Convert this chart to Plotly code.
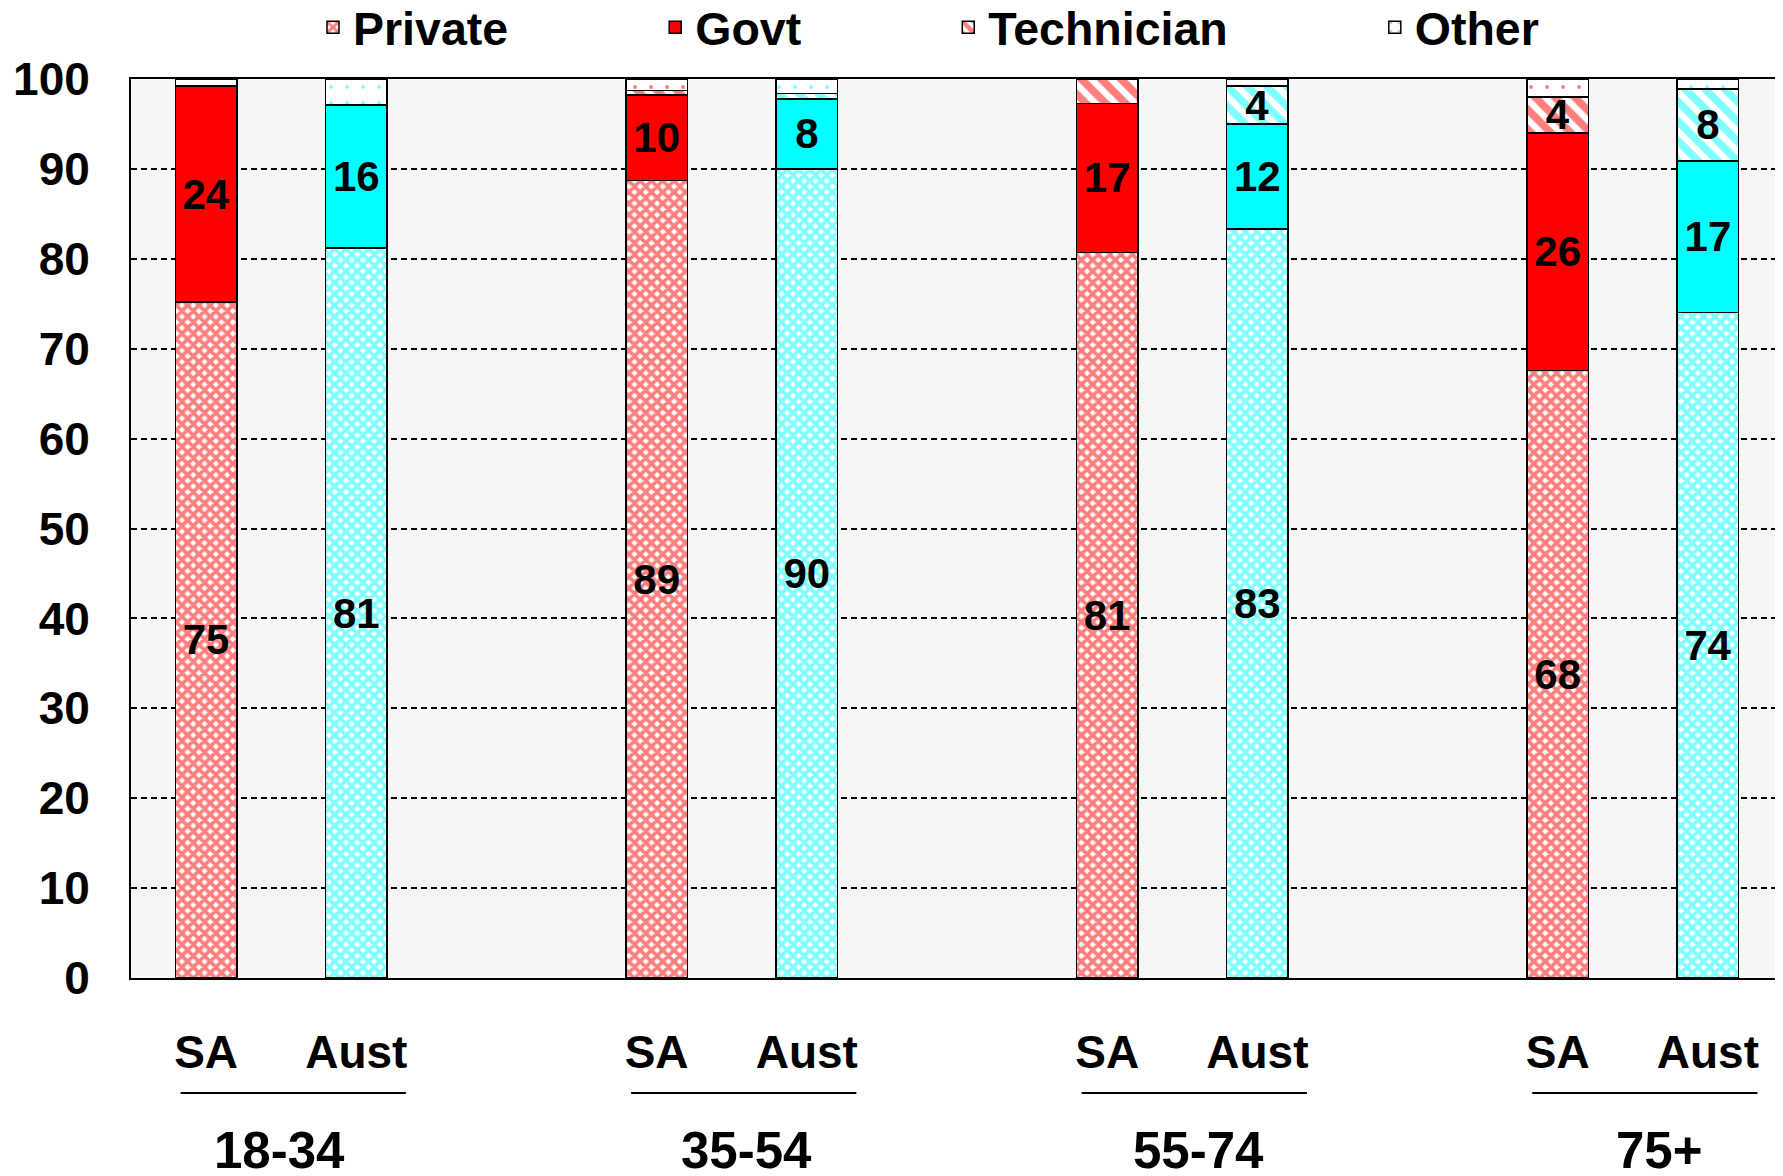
import plotly.graph_objects as go

# ---------------- data ----------------
groups = ["18-34", "35-54", "55-74", "75+"]
regions = ["SA", "Aust"]
series = ["Private", "Govt", "Technician", "Other"]

sa_private = [75.2, 88.7, 80.7, 67.6]
sa_govt = [24.0, 9.5, 16.6, 26.4]
sa_tech = [0.0, 0.5, 2.7, 4.0]
sa_other = [0.8, 1.3, 0.0, 2.0]

aust_private = [81.2, 90.0, 83.3, 74.0]
aust_govt = [15.9, 7.8, 11.7, 16.9]
aust_tech = [0.0, 0.6, 4.2, 8.0]
aust_other = [2.9, 1.6, 0.8, 1.1]

y_ticks = [0, 10, 20, 30, 40, 50, 60, 70, 80, 90, 100]

# ---------------- layout helpers ----------------
PAGE_W, PAGE_H = 1783, 1176
OFF = 8                      # default body margin of the html page
W, H = PAGE_W - OFF, PAGE_H - OFF
PLOT_L, PLOT_T, PLOT_B = 131, 79, 978    # page pixel positions of plot area
ML, MR = PLOT_L - OFF, 0
MT, MB = PLOT_T - OFF, PAGE_H - PLOT_B
plot_h = PLOT_B - PLOT_T

def py(page_y):
    """page pixel y -> paper y"""
    return (PLOT_B - page_y) / plot_h

FONT = "Arial, 'Liberation Sans', sans-serif"
RED = "#FF0000"
CYAN = "#00FFFF"
NB = "\u00a0"

group_step = 3
sa_x = [g * group_step for g in range(len(groups))]
aust_x = [g * group_step + 1 for g in range(len(groups))]

def labels(vals):
    return [str(int(round(v))) if v >= 3.5 else "" for v in vals]

def pattern(kind, color):
    if kind == "Private":
        return dict(shape="x", fgcolor=color, bgcolor="white", size=8, solidity=0.72)
    if kind == "Govt":
        return dict(shape="")
    if kind == "Technician":
        return dict(shape="\\", fgcolor=color, bgcolor="white", size=14, solidity=0.55)
    return dict(shape=".", fgcolor=color, bgcolor="white", size=16, solidity=0.05)

fig = go.Figure()

sa_vals = [sa_private, sa_govt, sa_tech, sa_other]
aust_vals = [aust_private, aust_govt, aust_tech, aust_other]

LABEL_SIZE = 42
for i, (name, vals) in enumerate(zip(series, sa_vals)):
    legend_name = name + (NB * 11 if i < len(series) - 1 else "")
    fig.add_trace(go.Bar(
        x=sa_x, y=vals, name=legend_name, width=0.41,
        marker=dict(color=RED if name == "Govt" else "white",
                    pattern=pattern(name, RED),
                    line=dict(color="black", width=1.5)),
        text=labels(vals), textposition="inside", insidetextanchor="middle",
        textangle=0, constraintext="none",
        textfont=dict(family=FONT, size=LABEL_SIZE, color="black", weight="bold"),
        legendgroup=name, showlegend=True,
    ))
for name, vals in zip(series, aust_vals):
    fig.add_trace(go.Bar(
        x=aust_x, y=vals, name=name, width=0.41,
        marker=dict(color=CYAN if name == "Govt" else "white",
                    pattern=pattern(name, CYAN),
                    line=dict(color="black", width=1.5)),
        text=labels(vals), textposition="inside", insidetextanchor="middle",
        textangle=0, constraintext="none",
        textfont=dict(family=FONT, size=LABEL_SIZE, color="black", weight="bold"),
        legendgroup=name, showlegend=False,
    ))

tickvals = []
ticktext = []
for sx, ax in zip(sa_x, aust_x):
    tickvals += [sx, ax]
    ticktext += [regions[0], regions[1]]

fig.update_layout(
    width=W, height=H,
    margin=dict(l=ML, r=MR, t=MT, b=MB, pad=0, autoexpand=False),
    barmode="stack",
    paper_bgcolor="white",
    plot_bgcolor="#f6f6f6",
    font=dict(family=FONT, size=46, color="black", weight="bold"),
    showlegend=True,
    legend=dict(orientation="h", xref="container", yref="container",
                x=(313 - OFF) / W, y=1 - (27.5 - OFF) / H,
                xanchor="left", yanchor="middle",
                font=dict(family=FONT, size=46.5, color="black", weight="bold"),
                bgcolor="rgba(0,0,0,0)", traceorder="normal"),
    xaxis=dict(range=[-0.5, 10.5], tickvals=tickvals, ticktext=ticktext,
               showgrid=False, zeroline=False, showline=True, linecolor="black",
               linewidth=2, mirror=True, ticks="", ticklabelstandoff=33,
               tickfont=dict(family=FONT, size=46, color="black", weight="bold")),
    yaxis=dict(range=[0, 100], tickvals=y_ticks, showgrid=True, gridcolor="black",
               gridwidth=1.5, griddash="6px,4px", zeroline=False, showline=True,
               linecolor="black", linewidth=2, ticks="", ticklabelstandoff=30,
               tickfont=dict(family=FONT, size=46, color="black", weight="bold")),
)

# group underlines and labels
group_label_x = [0.49, 3.6, 6.61, 9.68]
for g, (sx, lbl) in enumerate(zip(sa_x, groups)):
    fig.add_shape(type="line", xref="x", yref="paper",
                  x0=sx - 0.17, x1=sx + 1.33, y0=py(1093), y1=py(1093),
                  line=dict(color="black", width=2))
    fig.add_annotation(xref="x", yref="paper", x=group_label_x[g], y=py(1150),
                       text=lbl, showarrow=False, xanchor="center", yanchor="middle",
                       font=dict(family=FONT, size=51, color="black", weight="bold"))

fig.write_html("out.html")
